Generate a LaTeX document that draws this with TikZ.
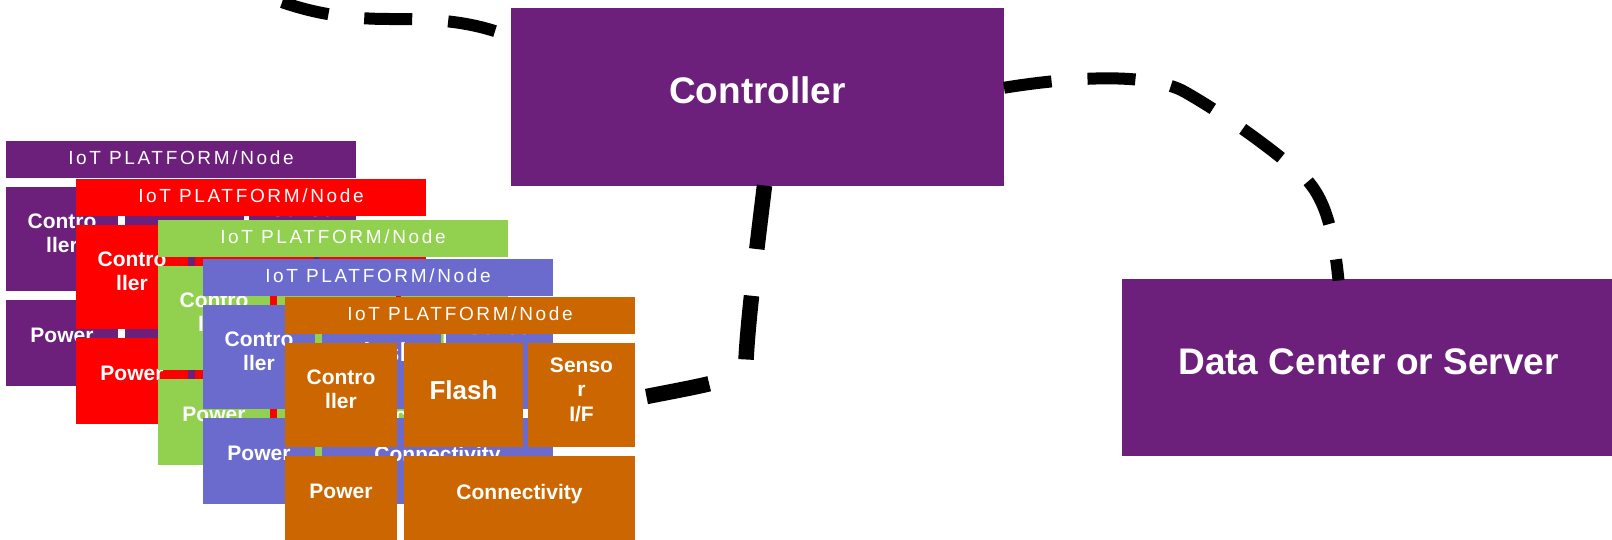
\documentclass[tikz,border=0pt]{standalone}
\usepackage{fontspec}
\setmainfont{Liberation Sans}
\definecolor{ppurple}{RGB}{108,31,123}
\definecolor{pred}{RGB}{255,0,0}
\definecolor{pgreen}{RGB}{146,208,80}
\definecolor{pblue}{RGB}{107,107,206}
\definecolor{porange}{RGB}{204,102,0}
\tikzset{
  cell/.style={rectangle, draw=none, inner sep=0pt, outer sep=0pt, anchor=north west},
  hdrtext/.style={text=white, inner sep=0pt, font=\fontsize{19pt}{20pt}\selectfont\addfontfeature{LetterSpace=14}},
  celltext/.style={text=white, inner sep=0pt, align=center, font=\fontsize{21pt}{24.5pt}\selectfont\bfseries},
  flashtext/.style={text=white, inner sep=0pt, font=\fontsize{26pt}{28pt}\selectfont\bfseries},
  bigtext/.style={text=white, inner sep=0pt, font=\fontsize{37pt}{40pt}\selectfont\bfseries},
  link/.style={line width=12pt, dash pattern=on 48pt off 36pt},
  thicklink/.style={line width=15.5pt, dash pattern=on 64pt off 47pt},
}
\newcommand\iotstack[4]{%
  \node[cell, fill=#4, minimum width=350pt, minimum height=36.5pt] (#1h) at (#2,#3) {};
  \node[hdrtext] (#1ht) at ([yshift=2pt]#1h.center) {IoT PLATFORM/Node};
  \node[cell, fill=#4, minimum width=112pt, minimum height=103.5pt] (#1c) at (#2,#3+46) {};
  \node[cell, fill=#4, minimum width=119pt, minimum height=103.5pt] (#1f) at (#2+119,#3+46) {};
  \node[cell, fill=#4, minimum width=107pt, minimum height=103.5pt] (#1s) at (#2+243,#3+46) {};
  \node[cell, fill=#4, minimum width=112pt, minimum height=86pt] (#1p) at (#2,#3+158.5) {};
  \node[cell, fill=#4, minimum width=231pt, minimum height=86pt] (#1n) at (#2+119,#3+158.5) {};
  \node[celltext] (#1ct) at ([yshift=5.5pt]#1c.center) {Contro\\ller};
  \node[flashtext] (#1ft) at ([yshift=5pt]#1f.center) {Flash};
  \node[celltext] (#1st) at ([yshift=5pt]#1s.center) {Senso\\r\\I/F};
  \node[celltext] (#1pt) at ([yshift=7pt]#1p.center) {Power};
  \node[celltext] (#1nt) at ([yshift=4.5pt]#1n.center) {Connectivity};
}
\begin{document}
\begin{tikzpicture}[x=1pt,y=-1pt]
\useasboundingbox (0,0) rectangle (1612,539);
\clip (0,0) rectangle (1612,539);
\fill[white] (0,0) rectangle (1612,539);
% main boxes
\node[cell, fill=ppurple, minimum width=493pt, minimum height=177.5pt] (ctrl) at (511,8) {};
\node[bigtext] (ctrlt) at ([yshift=6pt]ctrl.center) {Controller};
\node[cell, fill=ppurple, minimum width=493pt, minimum height=177pt] (dc) at (1122,278.5) {};
\node[bigtext] (dct) at ([yshift=5pt]dc.center) {Data Center or Server};
% stacked IoT nodes
\iotstack{sa}{6}{141}{ppurple}
\iotstack{sb}{76}{179}{pred}
\iotstack{sc}{158}{220}{pgreen}
\iotstack{sd}{203}{259}{pblue}
\iotstack{se}{285}{297}{porange}
% connectors
\coordinate (off) at (240,-15);
\draw[link, dash phase=67pt] ([yshift=-29pt]ctrl.north west) .. controls (470,20) and (430,19) .. (390,19) .. controls (330,19) and (290,8) .. (off);
\draw[link] ([yshift=9pt]ctrl.east) .. controls (1070,77) and (1150,72) .. (1185,92) .. controls (1220,112) and (1260,140) .. (1290,165) .. controls (1320,186) and (1332,215) .. ([xshift=-30pt,yshift=-2pt]dc.north);
\draw[thicklink] ([xshift=7pt]ctrl.south) .. controls (756,255) and (748,320) .. (746,360) .. controls (742,380) and (720,382) .. ([yshift=-4pt]ses.east);
\end{tikzpicture}
\end{document}
